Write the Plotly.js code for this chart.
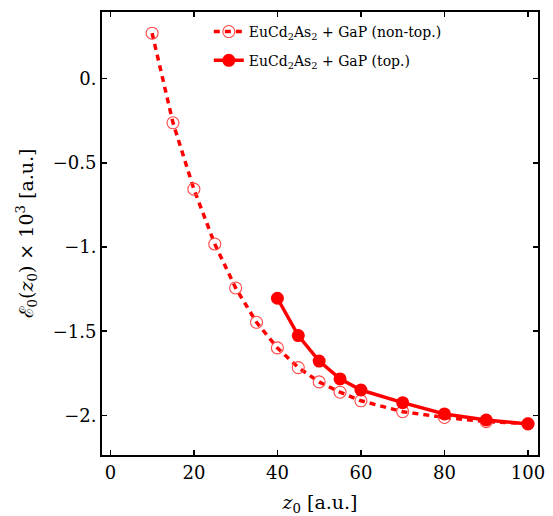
<!DOCTYPE html>
<html>
<head>
<meta charset="utf-8">
<script src="https://cdn.plot.ly/plotly-3.0.1.min.js"></script>
<style>html,body{margin:0;padding:0;background:#fff;}#chart{width:553px;height:516px;}</style>
</head>
<body>
<div id="chart"></div>
<script>
// Data
var zNonTop = [10, 15, 20, 25, 30, 35, 40, 45, 50, 55, 60, 70, 80, 90, 100];
var eNonTop = [0.27, -0.262, -0.656, -0.982, -1.243, -1.447, -1.599, -1.716, -1.801, -1.862, -1.913, -1.978, -2.012, -2.037, -2.048];
var zTop = [40, 45, 50, 55, 60, 70, 80, 90, 100];
var eTop = [-1.304, -1.526, -1.677, -1.783, -1.849, -1.924, -1.991, -2.027, -2.051];
var nameNonTop = 'EuCd<sub>2</sub>As<sub>2</sub> + GaP (non-top.)';
var nameTop = 'EuCd<sub>2</sub>As<sub>2</sub> + GaP (top.)';
var xTickVals = [0, 20, 40, 60, 80, 100];
var xTickText = ['0', '20', '40', '60', '80', '100'];
var yTickVals = [0, -0.5, -1, -1.5, -2];
var yTickText = ['0.', '\u22120.5', '\u22121.', '\u22121.5', '\u22122.'];

var serif = 'DejaVu Serif';

var traces = [
  {
    x: zNonTop, y: eNonTop, name: nameNonTop, type: 'scatter', mode: 'lines+markers',
    line: {color: '#ff0000', width: 3.5, dash: '6px,5px'},
    marker: {symbol: 'circle-open', size: 12, color: '#ff4848', line: {width: 1.1, color: '#ff4848'}},
    legend: 'legend'
  },
  {
    x: zTop, y: eTop, name: nameTop, type: 'scatter', mode: 'lines+markers',
    line: {color: '#ff0000', width: 3.5},
    marker: {symbol: 'circle', size: 13, color: '#ff0000'},
    legend: 'legend2'
  }
];

var axisCommon = {
  showgrid: false, zeroline: false, showline: true, linecolor: '#000', linewidth: 2,
  mirror: 'ticks', ticks: 'inside', ticklen: 5, tickwidth: 1.5, tickcolor: '#000',
  tickfont: {family: serif, size: 18, color: '#000'}
};

var legendCommon = {
  xanchor: 'left', yanchor: 'middle',
  font: {family: serif, size: 14, color: '#000'},
  bgcolor: 'rgba(0,0,0,0)'
};

var layout = {
  width: 553, height: 516,
  margin: {l: 102, r: 15, t: 12, b: 61},
  paper_bgcolor: '#fff', plot_bgcolor: '#fff',
  showlegend: true,
  legend: Object.assign({}, legendCommon, {x: 0.245, y: 0.955}),
  legend2: Object.assign({}, legendCommon, {x: 0.245, y: 0.89}),
  xaxis: Object.assign({}, axisCommon, {
    range: [-2, 102.4], tickvals: xTickVals, ticktext: xTickText,
    title: {text: '<i>z</i><sub>0</sub> [a.u.]', font: {family: serif, size: 19, color: '#000'}, standoff: 14}
  }),
  yaxis: Object.assign({}, axisCommon, {
    range: [-2.235, 0.396], tickvals: yTickVals, ticktext: yTickText,
    title: {text: '\u2130<sub>0</sub>(<i>z</i><sub>0</sub>) \u00d7 10<sup>3</sup> [a.u.]', font: {family: serif, size: 19, color: '#000'}, standoff: 14}
  })
};

Plotly.newPlot('chart', traces, layout, {displayModeBar: false, staticPlot: true});
</script>
</body>
</html>
